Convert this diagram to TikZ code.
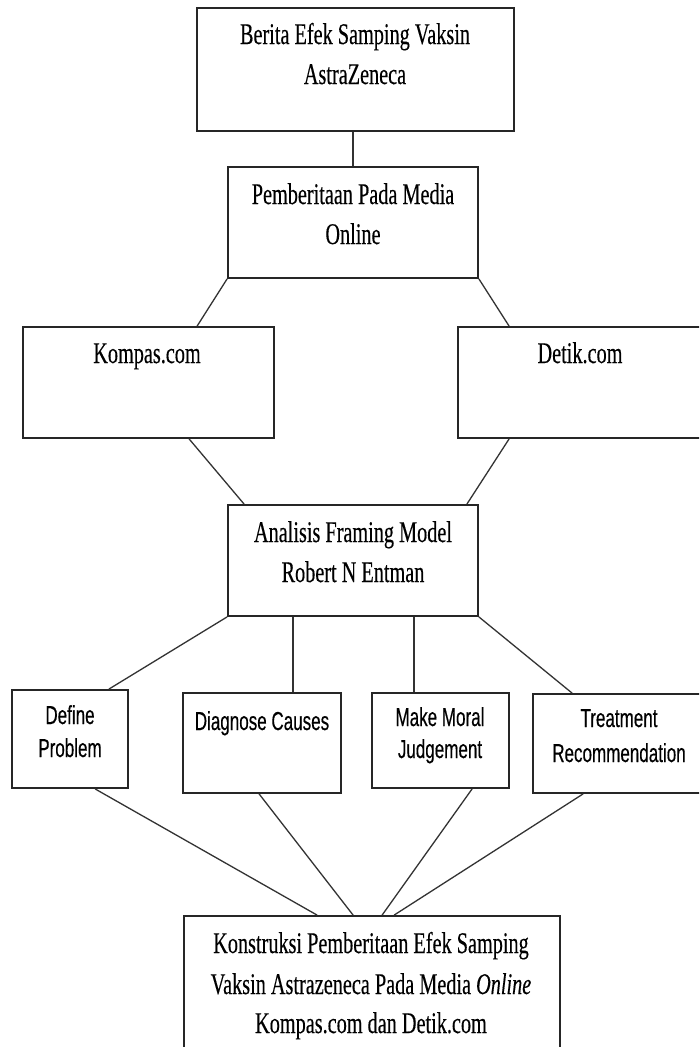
\documentclass[tikz,border=0pt]{standalone}
\usepackage{fontspec}
\newfontfamily\serifn[FakeStretch=0.675,FakeBold=0.3]{Liberation Serif}
\newfontfamily\sansn[FakeStretch=0.655,FakeBold=0.3]{Liberation Sans}
\usetikzlibrary{calc}
\tikzset{
  box/.style={draw=black!85, line width=1.8pt, inner sep=0pt, rectangle},
  link/.style={draw=black!80, line width=1.3pt},
  st/.style={font=\serifn\fontsize{30}{34}\selectfont, anchor=base, inner sep=0pt},
  ss/.style={font=\sansn\fontsize{26}{30}\selectfont, anchor=base, inner sep=0pt},
}
\begin{document}
\begin{tikzpicture}[x=1pt,y=-1pt]
\useasboundingbox (0,0) rectangle (699,1047);
\clip (0,0) rectangle (699,1047);
\fill[white] (0,0) rectangle (699,1047);
% boxes
\node[box, minimum width=317pt, minimum height=123pt] (berita) at (355.5,69.5) {};
\node[box, minimum width=250pt, minimum height=111pt] (pemb) at (353,222.5) {};
\node[box, minimum width=251pt, minimum height=111pt] (kompas) at (148.5,382.5) {};
\node[box, minimum width=244pt, minimum height=111pt] (detik) at (580,382.5) {};
\node[box, minimum width=250pt, minimum height=111pt] (analisis) at (353,560.5) {};
\node[box, minimum width=116pt, minimum height=98pt] (define) at (70,739) {};
\node[box, minimum width=158pt, minimum height=100pt] (diag) at (262,743) {};
\node[box, minimum width=137pt, minimum height=95pt] (moral) at (440.5,740.5) {};
\node[box, minimum width=172pt, minimum height=99pt] (treat) at (619,743.5) {};
\node[box, minimum width=376pt, minimum height=159pt] (konst) at (372,995.5) {};
% texts
\node[st] (t1a) at (355,44) {Berita Efek Samping Vaksin};
\node[st] (t1b) at (355,84) {AstraZeneca};
\node[st] (t2a) at (353,204) {Pemberitaan Pada Media};
\node[st] (t2b) at (353,244) {Online};
\node[st] (t3) at (147,363) {Kompas.com};
\node[st] (t4) at (580,363) {Detik.com};
\node[st] (t5a) at (353,542) {Analisis Framing Model};
\node[st] (t5b) at (353,582) {Robert N Entman};
\node[ss] (t6a) at (70,724) {Define};
\node[ss] (t6b) at (70,757) {Problem};
\node[ss] (t7) at (262,730) {Diagnose Causes};
\node[ss] (t8a) at (440,726) {Make Moral};
\node[ss] (t8b) at (440,758) {Judgement};
\node[ss] (t9a) at (619,727) {Treatment};
\node[ss] (t9b) at (619,762) {Recommendation};
\node[st] (t10a) at (371,953) {Konstruksi Pemberitaan Efek Samping};
\node[st] (t10b) at (371,994) {Vaksin Astrazeneca Pada Media \textit{Online}};
\node[st] (t10c) at (371,1033) {Kompas.com dan Detik.com};
% connectors
\draw[link] (pemb.north |- berita.south) -- (pemb.north);
\draw[link] (pemb.south west) -- ([xshift=175pt]kompas.north west);
\draw[link] (pemb.south east) -- ([xshift=52pt]detik.north west);
\draw[link] ([xshift=167pt]kompas.south west) -- ([xshift=17pt]analisis.north west);
\draw[link] ([xshift=52pt]detik.south west) -- ([xshift=-12pt]analisis.north east);
\draw[link] (analisis.south west) -- ([xshift=-20pt]define.north east);
\draw[link] ([xshift=66pt]analisis.south west) -- ([xshift=111pt]diag.north west);
\draw[link] ([xshift=187pt]analisis.south west) -- ([xshift=43pt]moral.north west);
\draw[link] (analisis.south east) -- ([xshift=40pt]treat.north west);
\draw[link] ([xshift=84pt]define.south west) -- ([xshift=134pt]konst.north west);
\draw[link] ([xshift=77pt]diag.south west) -- ([xshift=170pt]konst.north west);
\draw[link] ([xshift=101pt]moral.south west) -- ([xshift=199pt]konst.north west);
\draw[link] ([xshift=51pt]treat.south west) -- ([xshift=211pt]konst.north west);
\end{tikzpicture}
\end{document}
